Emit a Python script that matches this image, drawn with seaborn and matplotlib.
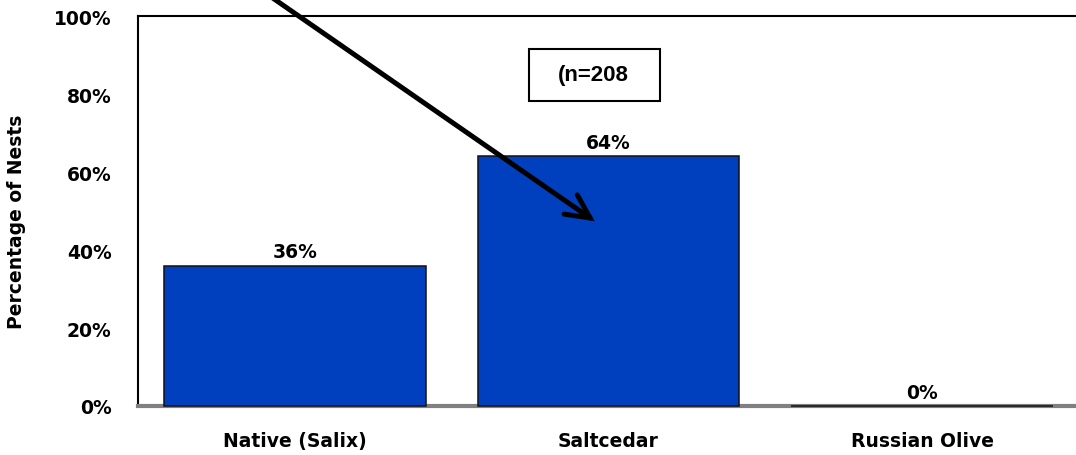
import matplotlib
matplotlib.use("Agg")
import matplotlib.pyplot as plt
from matplotlib.patches import Rectangle
import seaborn as sns
import pandas as pd

# Nest substrate shares
categories = ["Native (Salix)", "Saltcedar", "Russian Olive"]
percentages = [36, 64, 0]
y_ticks = [0, 20, 40, 60, 80, 100]
sample_note = "(n=208"

sns.set_style("white")
plt.rcParams["font.family"] = ["DejaVu Sans"]
plt.rcParams["font.weight"] = "bold"
plt.rcParams["text.color"] = "black"
plt.rcParams["axes.labelcolor"] = "black"
plt.rcParams["xtick.color"] = "black"
plt.rcParams["ytick.color"] = "black"

df = pd.DataFrame({"substrate": categories, "pct": percentages})

fig = plt.figure(figsize=(10.76, 4.56), dpi=100)
ax = fig.add_axes([0.1283, 0.1075, 0.8745, 0.855])

sns.barplot(data=df, x="substrate", y="pct", color="#0040BF", saturation=1,
            width=0.835, edgecolor="#111111", linewidth=1.1, ax=ax, zorder=3,
            clip_on=False)

ax.set_xlim(-0.5, 2.5)
ax.set_ylim(0, 100)
ax.set_yticks(y_ticks)
ax.set_yticklabels([f"{t}%" for t in y_ticks])
ax.tick_params(axis="both", length=0, labelsize=13.5, colors="black")
ax.tick_params(axis="y", pad=19)
ax.tick_params(axis="x", pad=18)
for lbl in ax.get_xticklabels() + ax.get_yticklabels():
    lbl.set_fontweight("bold")

ax.set_xlabel("")
ax.set_ylabel("Percentage of Nests", fontsize=13.5, fontweight="bold",
              color="black")
ax.yaxis.set_label_coords(-0.119, 0.474)

for c in ax.containers:
    ax.bar_label(c, labels=[f"{v:.0f}%" for v in percentages], padding=3,
                 fontsize=13.5, fontweight="bold", color="black")

# frame: plain left/top edges, grey floor at zero
ax.spines["left"].set_color("black")
ax.spines["left"].set_linewidth(1.5)
ax.spines["top"].set_color("black")
ax.spines["top"].set_linewidth(1.5)
ax.spines["right"].set_visible(False)
ax.spines["bottom"].set_color("#808080")
ax.spines["bottom"].set_linewidth(3)
ax.grid(False)

# sample-size note in a framed box
ax.add_patch(Rectangle((0.415, 0.782), 0.140, 0.133, transform=ax.transAxes,
                       facecolor="white", edgecolor="black", linewidth=1.5,
                       zorder=4))
ax.text(0.951, 85.0, sample_note, ha="center", va="center",
        fontsize=16, fontweight="bold", family=["Liberation Sans"],
        color="black", zorder=5)

# pointer arrow to the saltcedar bar
ax.annotate("", xy=(0.956, 47.4), xytext=(-0.113, 107.0),
            annotation_clip=False,
            arrowprops=dict(arrowstyle="->,head_length=0.85,head_width=0.42",
                            mutation_scale=20, lw=3.6, color="black",
                            shrinkA=0, shrinkB=0, capstyle="round",
                            joinstyle="miter"),
            zorder=6)

fig.savefig("out.png", dpi=100)
